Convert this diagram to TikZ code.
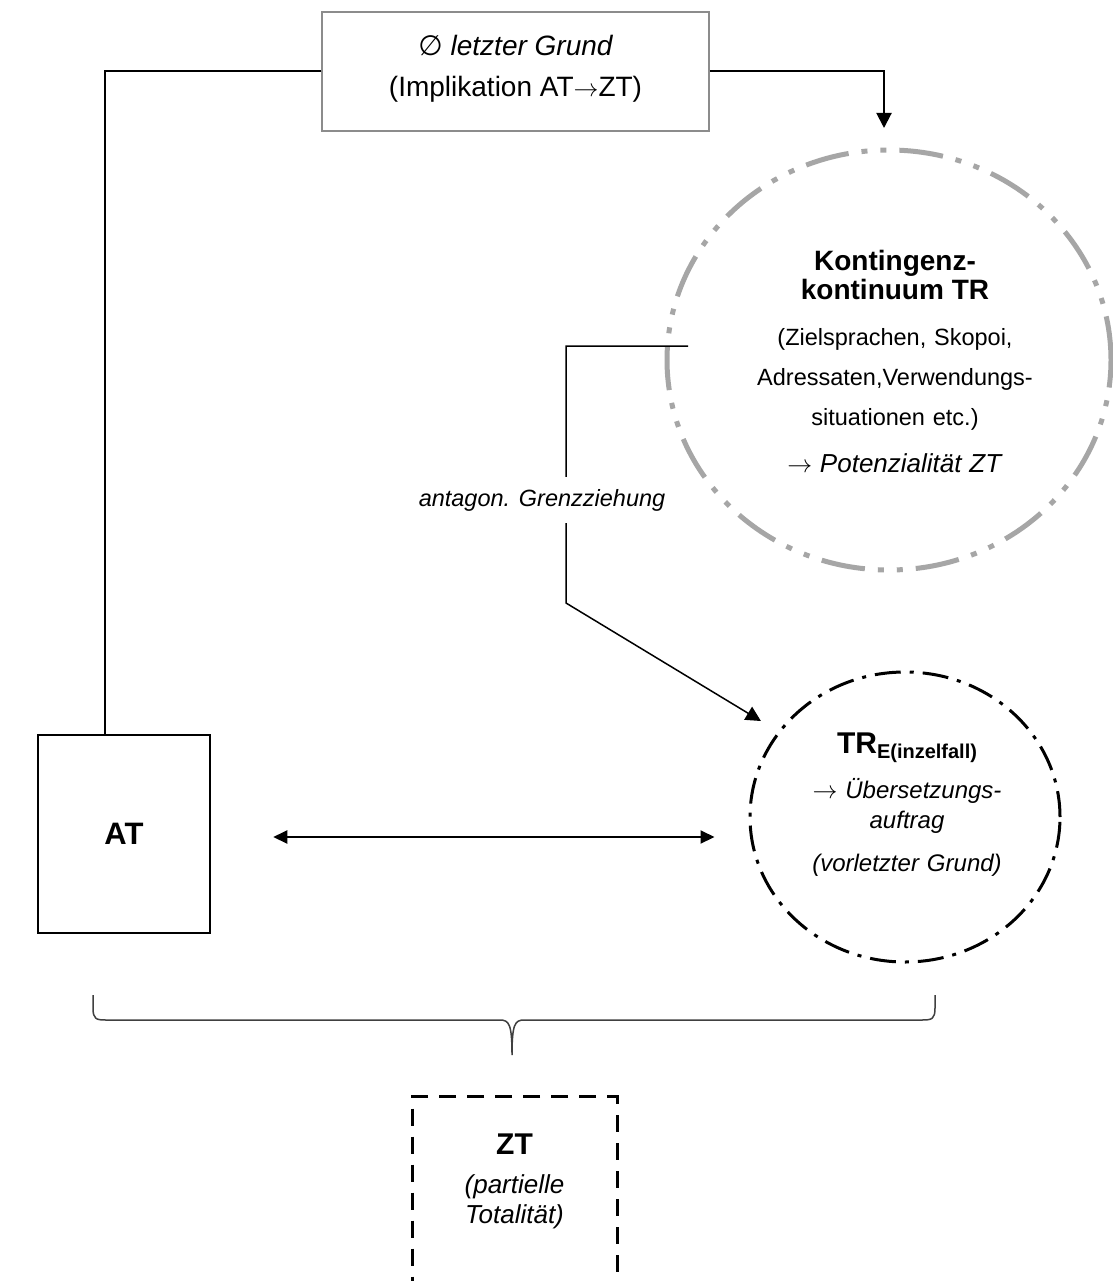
\documentclass[tikz,border=0pt]{standalone}
\usepackage{fontspec}
\setmainfont{Liberation Sans}
\newfontfamily\dejavu{DejaVu Sans}
\usetikzlibrary{arrows.meta,shapes.geometric}

\definecolor{kontgray}{HTML}{A6A6A6}
\definecolor{framegray}{HTML}{8C8C8C}
\definecolor{bracegray}{HTML}{404040}

\begin{document}
\begin{tikzpicture}[x=1pt, y=-1pt,
    every node/.style={inner sep=0pt},
    link/.style={line width=2pt},
    linkarrow/.style={-{Triangle[length=15pt,width=15pt]}},
    rectnode/.style={draw, line width=2.5pt},
    kontcirc/.style={ellipse, draw=kontgray, line width=5pt, dash pattern=on 44pt off 13pt on 6pt off 13pt on 6pt off 13pt},
    trecirc/.style={ellipse, draw, line width=3pt, dash pattern=on 26pt off 9pt on 4pt off 9pt},
    ztframe/.style={draw, line width=3pt, dash pattern=on 17pt off 11pt},
    bracebar/.style={draw=bracegray, line width=1.5pt}]

    \path[use as bounding box, fill=white] (0,0) rectangle (1112,1281);

    \node[draw=framegray, line width=1.5pt, minimum width=387pt, minimum height=119pt] (grund) at (515.5,71.5) {};
    \node[align=center, font=\fontsize{28}{41}\selectfont] (grundtxt) at (515.5,69) {\itshape{\dejavu ∅} letzter Grund\\(Implikation AT$\mathord{\rightarrow}$ZT)};

    \node[kontcirc, minimum width=444pt, minimum height=420pt] (kont) at (889,360) {};
    \node[anchor=north, text width=320pt, align=center, font=\fontsize{23.5}{40}\selectfont] (konttxt) at (895,250) {{\bfseries\fontsize{28}{29}\selectfont Kontingenz-\\kontinuum TR\par}\vspace{6pt}(Zielsprachen, Skopoi,\\Adressaten,Verwendungs-\\situationen etc.)\par\vspace{7pt}{\fontsize{26}{40}\selectfont$\rightarrow$ \textit{Potenzialität ZT}\par}};

    \node[rectnode, minimum width=172pt, minimum height=198pt, font=\bfseries\fontsize{31}{34}\selectfont] (at) at (124,834) {AT};

    \node[trecirc, minimum width=310pt, minimum height=290pt] (tre) at (905,817) {};
    \node[anchor=north, text width=240pt, align=center, font=\itshape\fontsize{24}{30}\selectfont] (tretxt) at (907,733) {{\upshape\bfseries\fontsize{30}{30}\selectfont TR\raisebox{-5pt}{\fontsize{20}{20}\selectfont E(inzelfall)}\par}\vspace{15pt}$\rightarrow$ Übersetzungs-\\auftrag\par\vspace{13pt}(vorletzter Grund)};

    \node[ztframe, anchor=north, minimum width=205pt, minimum height=250pt] (zt) at (514.5,1095) {};
    \node[anchor=north, text width=190pt, align=center, font=\itshape\fontsize{26}{30}\selectfont] (zttxt) at (514.5,1134) {{\upshape\bfseries\fontsize{30}{30}\selectfont ZT\par}\vspace{9pt}(partielle\\Totalität)};

    \coordinate (kin) at (884,128);
    \coordinate (gstart) at (688,346);
    \coordinate (bend) at (566,603);

    \draw[link] (grund.west) -| ([xshift=68pt]at.north west);
    \draw[link, linkarrow] (grund.east) -| (kin);
    \draw[link, line width=1.5pt, linkarrow, shorten >=20pt] (gstart) -| (bend) -- (tre.146);
    \node[fill=white, inner xsep=2pt, inner ysep=12pt, anchor=base, font=\itshape\fontsize{23.5}{28}\selectfont] (grenze) at (542,506) {antagon. Grenzziehung};
    \draw[link, {Triangle[length=14pt,width=13pt]}-{Triangle[length=14pt,width=13pt]}, shorten <=62pt, shorten >=34pt] ([yshift=-3pt]at.east) -- ([yshift=-3pt]at.east -| tre.west);

    % Klammer unter AT und TR_E
    \draw[bracebar] (93,995) -- (93,1008) .. controls (93,1019) and (96,1020) .. (106,1020) -- (500,1020) .. controls (509,1020) and (512,1024) .. (512,1055) .. controls (512,1024) and (515,1020) .. (524,1020) -- (922,1020) .. controls (932,1020) and (935,1019) .. (935,1008) -- (935,995);
\end{tikzpicture}
\end{document}
